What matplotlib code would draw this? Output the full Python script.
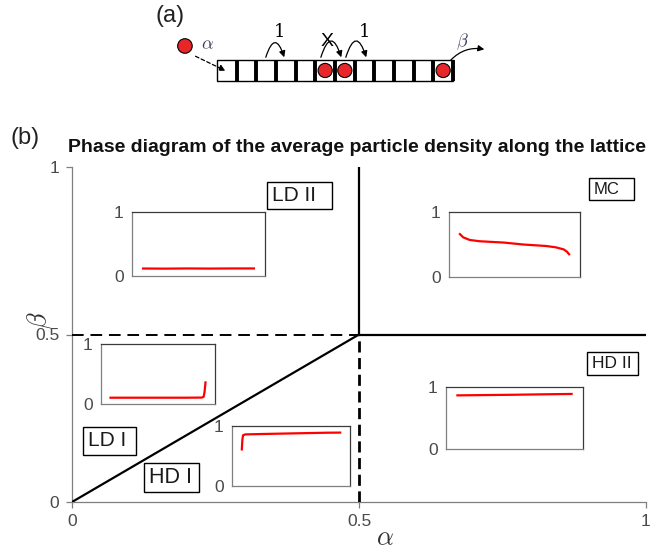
import matplotlib
matplotlib.use("Agg")
import matplotlib.pyplot as plt
from matplotlib.patches import Rectangle, Circle, FancyArrowPatch

plt.rcParams['font.family'] = ['Liberation Sans', 'DejaVu Sans']
plt.rcParams['mathtext.fontset'] = 'cm'

# ---------------- data ----------------
# phase boundaries (alpha, beta)
diag_alpha = [0.0, 0.5]
diag_beta = [0.0, 0.5]
mc_vert_alpha = [0.5, 0.5]
mc_vert_beta = [0.5, 1.0]
mc_horz_alpha = [0.5, 1.0]
mc_horz_beta = [0.5, 0.5]
dash_h_alpha = [0.0, 0.5]
dash_h_beta = [0.5, 0.5]
dash_v_alpha = [0.5, 0.5]
dash_v_beta = [0.0, 0.5]
main_ticks = [0, 0.5, 1]
main_ticklabels = ['0', '0.5', '1']

# density profiles (normalised site position, density)
ld2_x = [0.0, 0.2, 0.4, 0.6, 0.8, 1.0]
ld2_y = [0.117, 0.115, 0.118, 0.116, 0.118, 0.118]
mc_x = [0.0, 0.03, 0.09, 0.18, 0.40, 0.58, 0.79, 0.88, 0.95, 0.98, 1.0]
mc_y = [0.66, 0.61, 0.57, 0.55, 0.53, 0.50, 0.477, 0.456, 0.425, 0.39, 0.35]
ld1_x = [0.0, 0.2, 0.4, 0.6, 0.8, 0.96, 0.98, 0.99, 1.0]
ld1_y = [0.105, 0.105, 0.105, 0.105, 0.105, 0.107, 0.12, 0.2, 0.36]
hd1_x = [0.0, 0.005, 0.012, 0.035, 0.19, 0.52, 0.86, 1.0]
hd1_y = [0.61, 0.76, 0.845, 0.86, 0.866, 0.877, 0.888, 0.89]
hd2_x = [0.0, 0.25, 0.5, 0.75, 1.0]
hd2_y = [0.865, 0.87, 0.875, 0.882, 0.888]
inset_ticks = [0, 1]
inset_ticklabels = ['0', '1']

phase_names = ['LD II', 'MC', 'LD I', 'HD I', 'HD II']

# lattice schematic
n_sites = 12
occupied_sites = [6, 7, 12]
hop_rate_label = '1'

# ---------------- layout ----------------
W, H = 650, 553
fig = plt.figure(figsize=(W / 100, H / 100), dpi=100)


def px_axes(x0, y0, x1, y1):
    """axes rect from pixel box (left, top, right, bottom)"""
    return [x0 / W, 1 - y1 / H, (x1 - x0) / W, (y1 - y0) / H]


GRAY = '#7f7f7f'
TXT = '#4a4a4a'

ax = fig.add_axes(px_axes(72, 167, 646, 502))
ax.set_xlim(0, 1)
ax.set_ylim(0, 1)
for s in ['top', 'right']:
    ax.spines[s].set_visible(False)
for s in ['left', 'bottom']:
    ax.spines[s].set_color(GRAY)
    ax.spines[s].set_linewidth(0.9)
ax.set_xticks(main_ticks)
ax.set_xticklabels(main_ticklabels)
ax.set_yticks(main_ticks)
ax.set_yticklabels(main_ticklabels)
ax.tick_params(direction='out', length=4, width=0.9, color=GRAY,
               labelcolor=TXT, labelsize=12.5)
ax.tick_params(axis='x', pad=5)
ax.tick_params(axis='y', pad=5)

ax.plot(diag_alpha, diag_beta, color='black', lw=1.6, zorder=3)
ax.plot(mc_vert_alpha, mc_vert_beta, color='black', lw=1.6, zorder=3)
ax.plot(mc_horz_alpha, mc_horz_beta, color='black', lw=1.6, zorder=3)
ax.plot(dash_h_alpha, dash_h_beta, color='black', lw=1.4, ls=(0, (6, 3.5)), zorder=3)
ax.plot(dash_v_alpha, dash_v_beta, color='black', lw=2.0, ls=(0, (4, 2)), zorder=3)

fig.text(385 / W, 1 - 538 / H, r'$\alpha$', fontsize=19, ha='center', va='center', color='#333333')
fig.text(40 / W, 1 - 320 / H, r'$\beta$', fontsize=19, ha='center', va='center',
         rotation=90, color='#333333')

fig.text(357 / W, 1 - 147 / H,
         'Phase diagram of the average particle density along the lattice',
         fontsize=14, fontweight='bold', ha='center', va='center', color='#111111')
fig.text(25 / W, 1 - 138 / H, '(b)', fontsize=17, ha='center', va='center', color='#222222')
fig.text(170 / W, 1 - 16 / H, '(a)', fontsize=17, ha='center', va='center', color='#222222')

# insets
inset_boxes = [
    (132, 212, 265, 276),
    (449, 212, 580, 277),
    (101, 344, 215, 404),
    (232, 426, 350, 486),
    (446, 387, 583, 449),
]
profiles = [(ld2_x, ld2_y), (mc_x, mc_y), (ld1_x, ld1_y), (hd1_x, hd1_y), (hd2_x, hd2_y)]
for box, (px, py) in zip(inset_boxes, profiles):
    ia = fig.add_axes(px_axes(*box))
    ia.plot(px, py, color='red', lw=1.6)
    ia.set_xlim(-0.1, 1.1)
    ia.set_ylim(0, 1)
    ia.set_xticks([])
    ia.set_yticks(inset_ticks)
    ia.set_yticklabels(inset_ticklabels)
    ia.tick_params(length=0, pad=6, labelsize=12.5, labelcolor=TXT)
    for s in ia.spines.values():
        s.set_color('#3a3a3a')
        s.set_linewidth(0.9)
    ia.spines['bottom'].set_color(GRAY)
    ia.spines['left'].set_color(GRAY)

# phase name boxes (left, top, right, bottom) in pixels, fontsize
label_boxes = [
    (267, 182, 332, 209, 15),
    (589, 178, 634, 200, 12),
    (83, 427, 136, 455, 15),
    (144, 463, 199, 492, 15.5),
    (587, 352, 638, 375, 12.5),
]
for name, (x0, y0, x1, y1, fs) in zip(phase_names, label_boxes):
    fig.add_artist(Rectangle((x0 / W, 1 - y1 / H), (x1 - x0) / W, (y1 - y0) / H,
                             transform=fig.transFigure, facecolor='white',
                             edgecolor='black', lw=1.0, zorder=5))
    fig.text((x0 + 5) / W, 1 - (y0 + y1) / 2 / H, name, fontsize=fs,
             ha='left', va='center', color='#1a1a1a', zorder=6)

# ---------------- panel (a): lattice schematic ----------------
la = fig.add_axes(px_axes(150, 0, 500, 110))
la.set_xlim(-3.406, 14.39)
la.set_ylim(-1.474, 4.118)
la.axis('off')
hcell = 1.07
la.add_patch(Rectangle((0, 0), n_sites, hcell, facecolor='white', edgecolor='black', lw=1.0))
for i in range(1, n_sites + 1):
    la.plot([i, i], [0, hcell], color='black', lw=2.8, solid_capstyle='butt')
for s in occupied_sites:
    la.add_patch(Circle((s - 0.5, hcell / 2), 0.36, facecolor='#e8262a',
                        edgecolor='black', lw=0.8, zorder=4))
la.add_patch(Circle((-1.63, 1.78), 0.37, facecolor='#e8262a', edgecolor='black', lw=0.8))
la.text(-0.5, 1.83, r'$\alpha$', fontsize=13, color='#3a3f5c', ha='center', va='center')
la.text(12.5, 2.0, r'$\beta$', fontsize=13, color='#3a3f5c', ha='center', va='center')

aprops = dict(arrowstyle='-|>', mutation_scale=9, color='black', lw=0.9)
la.add_patch(FancyArrowPatch((-1.22, 1.32), (0.56, 0.46), linestyle=(0, (3, 2)), **aprops))
# hops
hops = [(2.44, 3.46), (6.51, 7.63), (5.24, 6.36)]
for (xa, xb) in hops:
    la.add_patch(FancyArrowPatch((xa, hcell), (xb, hcell),
                                 connectionstyle='arc3,rad=-1.7', **aprops))
la.text(3.2, 2.5, hop_rate_label, fontsize=13, family='DejaVu Serif', ha='center', va='center')
la.text(7.5, 2.5, hop_rate_label, fontsize=13, family='DejaVu Serif', ha='center', va='center')
la.text(5.62, 2.0, 'X', fontsize=14, ha='center', va='center')
la.add_patch(FancyArrowPatch((11.8, 0.97), (13.73, 1.58),
                             connectionstyle='arc3,rad=-0.3', **aprops))

fig.savefig('out.png', dpi=100)
